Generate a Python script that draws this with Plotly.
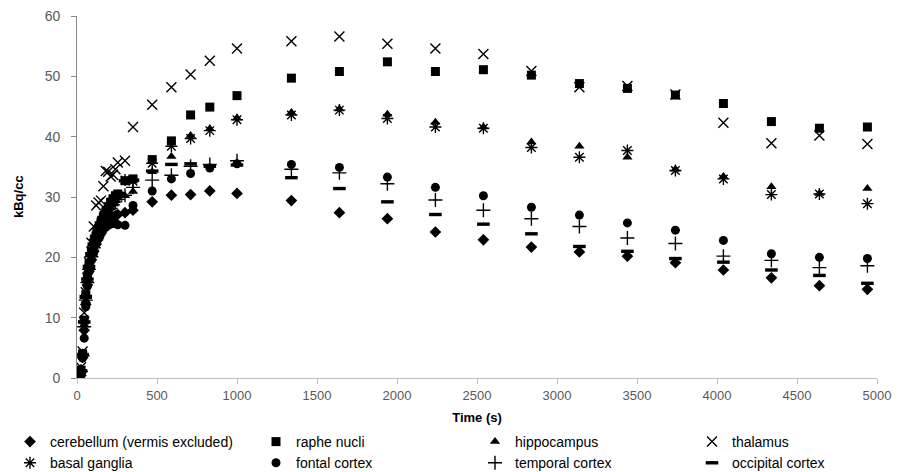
import plotly.graph_objects as go

time_s = [5, 15, 25, 35, 45, 55, 65, 75, 90, 105, 120, 135, 150, 165, 180, 195, 210, 225, 240, 255, 300, 350,
          470, 590, 710, 830, 1000, 1340, 1640, 1940, 2240, 2540, 2840, 3140, 3440, 3740, 4040, 4340, 4640, 4940]

cerebellum = [0.1, 0.3, 0.9, 3.4, 7.9, 12.2, 15.4, 17.7, 19.6, 21.0, 22.2, 23.2, 24.0, 24.8, 25.4, 25.9, 26.3, 26.6, 26.9, 27.1, 27.4, 27.8,
              29.2, 30.3, 30.4, 31.0, 30.6, 29.4, 27.4, 26.4, 24.2, 22.9, 21.7, 20.9, 20.2, 19.1, 17.9, 16.6, 15.3, 14.7]
raphe = [0.2, 0.6, 1.3, 4.0, 9.6, 13.8, 16.8, 18.9, 20.8, 22.4, 23.6, 24.8, 25.8, 26.7, 27.5, 28.3, 29.1, 29.7, 30.2, 30.5, 32.7, 33.0,
         36.2, 39.3, 43.6, 44.9, 46.8, 49.7, 50.8, 52.4, 50.8, 51.1, 50.2, 48.8, 48.0, 46.9, 45.5, 42.5, 41.4, 41.6]
hippocampus = [0.1, 0.4, 1.0, 3.6, 8.8, 12.8, 15.6, 17.9, 19.9, 21.5, 22.8, 24.0, 25.0, 25.9, 26.7, 27.5, 28.2, 28.9, 29.4, 29.8, 30.2, 30.9,
               34.2, 36.7, 40.2, 41.3, 43.1, 44.0, 44.6, 43.7, 42.4, 41.6, 39.1, 38.4, 36.6, 34.6, 33.4, 31.7, 30.6, 31.4]
thalamus = [0.3, 0.8, 1.8, 4.4, 10.8, 14.2, 16.6, 19.2, 22.4, 25.1, 28.6, 29.1, 29.4, 31.8, 34.3, 34.2, 33.4, 33.7, 34.6, 35.7, 36.0, 41.6,
            45.3, 48.2, 50.3, 52.6, 54.6, 55.8, 56.6, 55.4, 54.6, 53.7, 50.9, 48.2, 48.4, 47.0, 42.3, 38.9, 40.2, 38.8]
basal_ganglia = [0.2, 0.5, 1.2, 3.8, 9.2, 13.2, 16.0, 18.2, 20.3, 21.9, 23.2, 24.4, 25.4, 26.3, 27.1, 27.9, 28.6, 29.3, 29.8, 30.2, 32.8, 32.6,
                 35.6, 38.4, 39.7, 41.0, 42.8, 43.6, 44.4, 43.0, 41.6, 41.4, 38.2, 36.6, 37.7, 34.4, 33.0, 30.4, 30.5, 28.9]
frontal = [0.1, 0.3, 0.9, 3.3, 6.6, 11.8, 15.2, 17.6, 19.5, 20.9, 22.2, 23.1, 23.9, 24.6, 25.0, 25.3, 25.5, 25.6, 25.6, 25.4, 25.3, 28.6,
           31.0, 33.0, 33.9, 34.8, 35.5, 35.4, 34.9, 33.3, 31.6, 30.2, 28.3, 27.0, 25.7, 24.5, 22.8, 20.6, 20.0, 19.8]
temporal = [0.1, 0.4, 1.1, 3.7, 8.5, 12.9, 15.8, 18.0, 20.1, 21.6, 22.9, 24.0, 25.0, 25.9, 26.7, 27.4, 28.1, 28.7, 29.2, 29.6, 30.3, 31.6,
            32.8, 33.6, 35.1, 35.4, 36.0, 34.6, 34.0, 32.2, 29.5, 27.8, 26.4, 25.1, 23.2, 22.3, 20.2, 19.5, 18.3, 18.6]
occipital = [0.2, 0.5, 1.2, 3.9, 9.3, 13.5, 16.4, 18.5, 20.6, 22.2, 23.5, 24.7, 25.7, 26.6, 27.4, 28.2, 28.9, 29.6, 30.1, 30.6, 32.7, 32.8,
             34.3, 35.4, 35.5, 35.1, 35.3, 33.2, 31.4, 29.2, 27.1, 25.5, 23.9, 21.8, 21.0, 19.8, 19.2, 17.9, 17.0, 15.7]

x_ticks = [0, 500, 1000, 1500, 2000, 2500, 3000, 3500, 4000, 4500, 5000]
y_ticks = [0, 10, 20, 30, 40, 50, 60]

FONT = "Liberation Sans, Arial, sans-serif"
BLACK = "#000000"

series = [
    # name, values, symbol, size, line width, legend
    ("cerebellum (vermis excluded)", cerebellum, "diamond", 9, 0, "legend"),
    ("basal ganglia", basal_ganglia, "asterisk-open", 10, 1.4, "legend"),
    ("raphe nucli", raphe, "square", 9, 0, "legend2"),
    ("fontal cortex", frontal, "circle", 9, 0, "legend2"),
    ("hippocampus", hippocampus, "triangle-up", 9, 0, "legend3"),
    ("temporal cortex", temporal, "cross-thin-open", 10, 1.4, "legend3"),
    ("thalamus", thalamus, "x-thin-open", 10, 1.4, "legend4"),
    ("occipital cortex", occipital, "line-ew-open", 9, 3.4, "legend4"),
]

fig = go.Figure()
for name, vals, sym, size, lw, leg in series:
    fig.add_trace(go.Scatter(
        x=time_s, y=vals, mode="markers", name=name, legend=leg,
        marker=dict(symbol=sym, size=size, color=BLACK,
                    line=dict(width=lw, color=BLACK)),
    ))

leg_common = dict(orientation="v", yanchor="top", xanchor="left",
                  xref="container", yref="container",
                  font=dict(family=FONT, size=14, color="#000000"),
                  bgcolor="rgba(0,0,0,0)", tracegroupgap=0, itemwidth=30)
ly = 1 - 426 / 472
fig.update_layout(
    width=903, height=472,
    margin=dict(l=77, r=26, t=16, b=94, autoexpand=False),
    paper_bgcolor="white", plot_bgcolor="white",
    font=dict(family=FONT, size=13, color="#595959"),
    legend=dict(x=10 / 903, y=ly, **leg_common),
    legend2=dict(x=256 / 903, y=ly, **leg_common),
    legend3=dict(x=475 / 903, y=ly, **leg_common),
    legend4=dict(x=692 / 903, y=ly, **leg_common),
    xaxis=dict(range=[0, 5000], tickmode="array", tickvals=x_ticks, ticktext=[str(v) for v in x_ticks],
               showgrid=False, zeroline=False, showline=True, linecolor="#BFBFBF", linewidth=1,
               ticks="outside", ticklen=5, tickcolor="#BFBFBF",
               tickfont=dict(family=FONT, size=13, color="#595959"),
               title=dict(text="<b>Time (s)</b>", font=dict(family=FONT, size=13, color="#000000"), standoff=11)),
    yaxis=dict(range=[0, 60], tickmode="array", tickvals=y_ticks,
               ticktext=[str(v) + "\u00a0\u00a0" for v in y_ticks],
               showgrid=False, zeroline=False, showline=True, linecolor="#868686", linewidth=1,
               ticks="outside", ticklen=5, tickcolor="#868686",
               tickfont=dict(family=FONT, size=14, color="#595959")),
    annotations=[dict(text="<b>kBq/cc</b>", textangle=-90, xref="paper", yref="paper",
                      x=-(77 - 18) / 800, y=0.5, xanchor="center", yanchor="middle", showarrow=False,
                      font=dict(family=FONT, size=13, color="#000000"))],
)

fig.write_html("out.html")
